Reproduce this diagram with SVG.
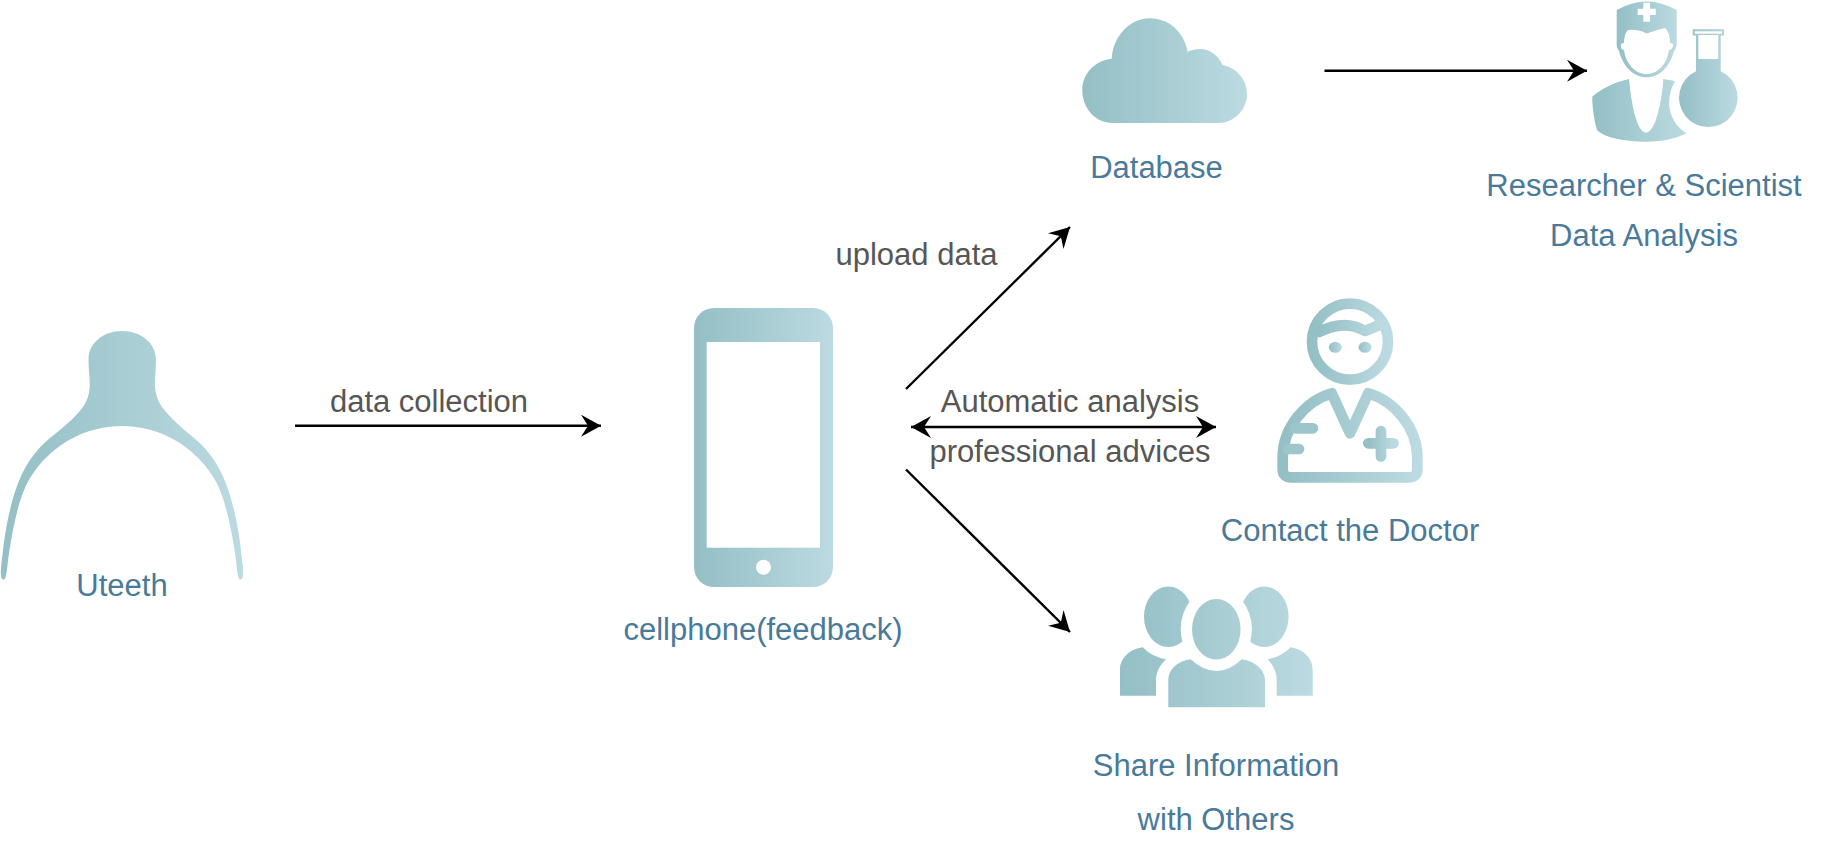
<svg xmlns="http://www.w3.org/2000/svg" xmlns:xlink="http://www.w3.org/1999/xlink" width="1833" height="845" viewBox="0 0 1833 845">
<style>
text{font-family:"Liberation Sans",Arial,sans-serif;font-size:31px;text-anchor:middle}
.l{fill:#4a7a9a}.c{fill:#565656}
.e{fill:none;stroke:#000;stroke-width:2.4}
.w{fill:#fff}
</style>
<defs>
<linearGradient id="b" x1="0" x2="1" y1="0" y2="0"><stop offset="0" stop-color="#93bfc5"/><stop offset="1" stop-color="#bcdae1"/></linearGradient>
<linearGradient id="g6" xlink:href="#b" href="#b" gradientUnits="userSpaceOnUse" x1="1120" x2="1313" y1="0" y2="0"/>
<marker id="a" markerUnits="userSpaceOnUse" markerWidth="22" markerHeight="24" refX="20" refY="11" orient="auto-start-reverse"><path d="M0,0 L20,11 L0,22 L7,11 Z" fill="#000"/></marker>
</defs>
<g id="connectors">
<path class="e" d="M295,425.7H601" marker-end="url(#a)"/>
<path class="e" d="M906,389L1070,227" marker-end="url(#a)"/>
<path class="e" d="M911,427H1216" marker-start="url(#a)" marker-end="url(#a)"/>
<path class="e" d="M906,469.5L1070,632" marker-end="url(#a)"/>
<path class="e" d="M1324.5,70.7H1587" marker-end="url(#a)"/>
</g>
<g id="uteeth">
<path fill="url(#b)" d="M122,331C103,331 88.500,343 88.500,360C88.500,370 90,378 89.700,387C89,398 85,405 79,412C70,422 60,430 50,438C28,456 17,480 10,510C5,530 3,550 1,568C0.500,574 1,579 3,579.500C5,580 6,577 7,570C8,558 10,545 13,530C17,510 22,490 32,475C52,445 85,426 122,426C159,426 192,445 212,475C222,490 227,510 231,530C234,545 236,558 237,570C238,577 239,580 241,579.500C243,579 243.500,574 243,568C241,550 239,530 234,510C227,480 216,456 194,438C184,430 175,422 166,412C160,405 156,398 155,387C154.700,378 156,370 156,360C156,343 141,331 122,331Z"/>
<text class="l" x="122" y="596">Uteeth</text>
</g>
<g id="phone">
<rect x="694" y="308" width="139" height="279" rx="20" fill="url(#b)"/>
<rect class="w" x="706.700" y="342" width="113.300" height="205.700"/>
<circle class="w" cx="763.500" cy="567.300" r="7.500"/>
<text class="l" x="763" y="639.500">cellphone(feedback)</text>
</g>
<g id="database">
<path fill="url(#b)" d="M1113,123C1095,123 1082.300,108 1082.300,90C1082.300,74 1094,61 1111.700,58.700C1113,36 1130,18.300 1150,18.300C1169,18.300 1184,32 1187.700,51.700C1192,50 1196,49 1200,49C1210,49 1218,55 1222.700,65C1237,68 1247,80 1247,94C1247,110 1234,123 1218,123Z"/>
<text class="l" x="1156.500" y="177.700">Database</text>
</g>
<g id="researcher">
<path fill="url(#b)" d="M1616.700,10Q1646.700,-7 1676.700,10V42Q1677,48 1674,51C1670,66 1660,77.300 1646.700,77.300C1633,77.300 1623,66 1619,51Q1616,48 1616.700,42Z"/>
<path class="w" d="M1628,30Q1638,29 1646.700,33.500Q1656,30 1665,28Q1670,32 1670,43Q1674,43 1673,46Q1672,50 1669,50C1667,64 1658,74 1646.700,74C1635,74 1626,64 1624,50Q1621,50 1621,46Q1620,43 1624,43Q1624,34 1628,30Z"/>
<path class="w" d="M1637.700,8.700H1655.700V15H1637.700ZM1643.300,2.700H1650V21.700H1643.300Z"/>
<path fill="url(#b)" d="M1592.300,96.700C1602,88 1616,82 1629,79C1631,100 1636,132 1646,132.700C1656,132 1662,100 1663.300,79L1675,81C1670,90 1668,100 1670,110C1672,120 1678,128 1686.700,133.300C1672,140 1660,141.700 1646.700,141.700C1625,141.700 1605,138 1597,130C1594,120 1592,105 1592.300,96.700Z"/>
<path fill="url(#b)" d="M1692.700,29.300H1724V35.500H1720.700V71.200A29.300,29.300 0 1 1 1696,71.200V35.500H1692.700Z"/>
<rect class="w" x="1694.700" y="31.300" width="27.300" height="2.400"/>
<rect class="w" x="1698.300" y="35" width="20" height="24"/>
<text class="l" x="1644" y="196">Researcher &amp; Scientist</text>
<text class="l" x="1644" y="245.500">Data Analysis</text>
</g>
<g id="doctor" fill="none" stroke="url(#b)" stroke-width="10.700" stroke-linecap="round" stroke-linejoin="round">
<circle cx="1350" cy="341.700" r="38"/>
<path d="M1319,332Q1345,319 1365,331L1382,324"/>
<ellipse cx="1335.300" cy="347.300" rx="6.500" ry="5.500" fill="url(#b)" stroke="none"/>
<ellipse cx="1365" cy="347.300" rx="6.500" ry="5.500" fill="url(#b)" stroke="none"/>
<path d="M1331.700,393.300C1305,401 1283,428 1282.700,456.700V469Q1282.700,477.300 1291,477.300H1409Q1417.300,477.300 1417.300,469V456.700C1417,428 1395,401 1368.300,393.300L1350,433.300Z"/>
<path d="M1295,428.300H1313M1288,449H1299" stroke="#9dc6cc"/>
<path d="M1368.300,443.300H1393.500M1381,431V456.500"/>
<text class="l" x="1350" y="541" stroke="none">Contact the Doctor</text>
</g>
<g id="share">
<ellipse cx="1168.300" cy="616.700" rx="24.300" ry="30.300" fill="url(#g6)"/>
<ellipse cx="1264.300" cy="616.700" rx="24.300" ry="30.300" fill="url(#g6)"/>
<ellipse class="w" cx="1216.300" cy="629.300" rx="35.600" ry="41.700"/>
<ellipse cx="1216.300" cy="629.300" rx="24.300" ry="30.300" fill="url(#g6)"/>
<path fill="url(#g6)" d="M1120,695.700V670C1120,658 1130,649 1142.700,647.300Q1152,657 1166,659.300C1160,665 1156,672 1156,680V695.700Z"/>
<path fill="url(#g6)" d="M1312.700,695.700V670C1312.700,658 1303,649 1290.700,647.300Q1281,657 1267.700,659.300C1273,665 1276.700,672 1276.700,680V695.700Z"/>
<path fill="url(#g6)" d="M1168.300,707.300V680C1168.300,670 1177,661 1190.700,659.300Q1203,671 1216.700,671Q1230,671 1241.700,659.300C1255,661 1265,670 1265,680V707.300Z"/>
<text class="l" x="1216" y="776">Share Information</text>
<text class="l" x="1216" y="830">with Others</text>
</g>
<g id="labels">
<text class="c" x="429" y="411.500">data collection</text>
<text class="c" x="916.500" y="265">upload data</text>
<text class="c" x="1070" y="411.500">Automatic analysis</text>
<text class="c" x="1070" y="462">professional advices</text>
</g>
</svg>
